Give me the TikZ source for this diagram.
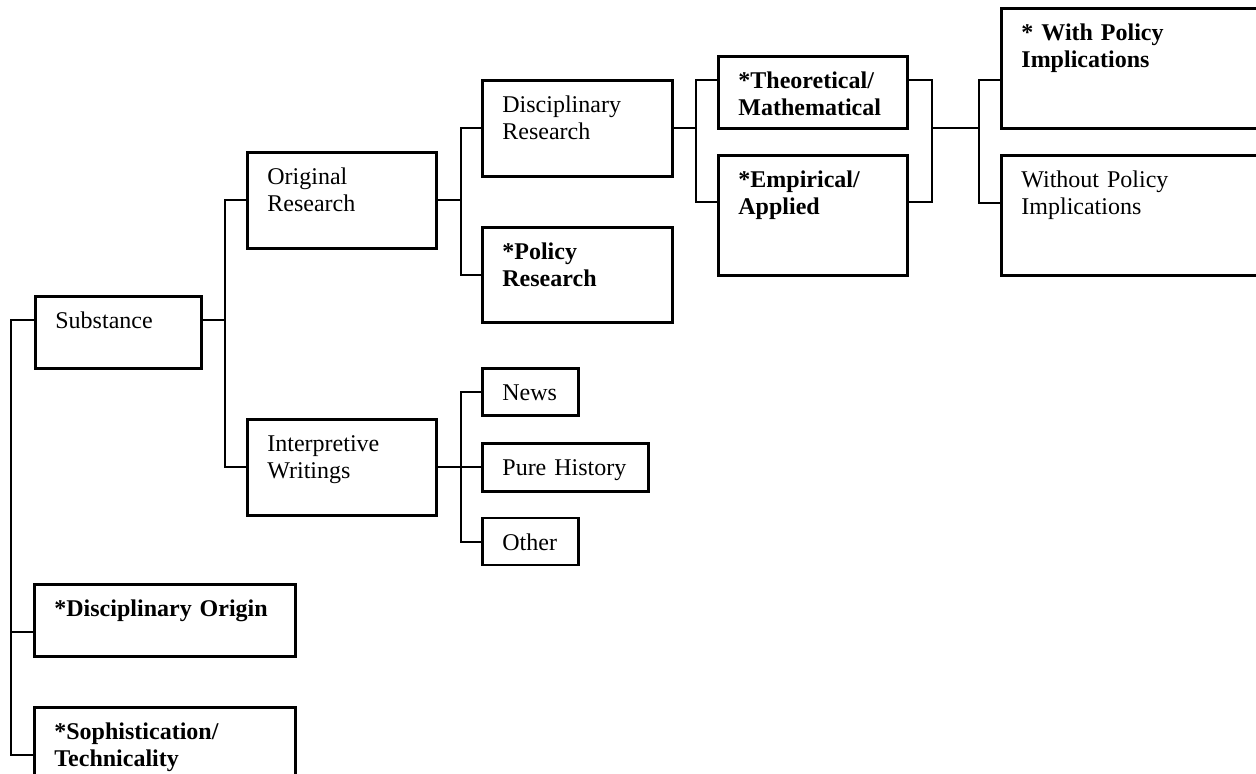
\documentclass[tikz,border=0pt]{standalone}
\usepackage{fontspec}
\setmainfont{Liberation Serif}
\usepackage{tikz}
\usetikzlibrary{positioning}
\tikzstyle{box} = [rectangle, draw, line width=1.4pt, anchor=north west,
    align=left, inner xsep=10pt, inner ysep=7pt, text height=9pt,
    font=\fontsize{12pt}{13.5pt}\selectfont]
\tikzstyle{link} = [draw, line width=1pt]

\begin{document}
\begin{tikzpicture}[x=0.5pt, y=-0.5pt]
  \useasboundingbox (0,0) rectangle (1256,774);
  \clip (0,0) rectangle (1256,774);
  % Place nodes
  \node [box, text width=63pt, text depth=13pt] (subst) at (34,295) {Substance};
  \node [box, text width=74.5pt, text depth=25pt] (orig) at (246,151) {Original\\Research};
  \node [box, text width=74.5pt, text depth=25pt, below=84pt of orig.south west, anchor=north west] (interp) {Interpretive\\Writings};
  \node [box, text width=75pt, text depth=25pt] (discres) at (481,79) {Disciplinary\\Research};
  \node [box, text width=75pt, text depth=24.5pt, below=24pt of discres.south west, anchor=north west] (polres) {\textbf{*Policy}\\\textbf{Research}};
  \node [box, text width=28pt, text depth=0.5pt] (news) at (481,367) {News};
  \node [box, text width=63pt, text depth=1pt, below=12.5pt of news.south west, anchor=north west] (purehist) {Pure History};
  \node [box, text width=28pt, text depth=0.5pt, below=12pt of purehist.south west, anchor=north west] (other) {Other};
  \node [box, text width=74.5pt, text depth=13pt] (theo) at (717,55) {\textbf{*Theoretical/}\\\textbf{Mathematical}};
  \node [box, text width=74.5pt, text depth=37pt, below=12pt of theo.south west, anchor=north west] (emp) {\textbf{*Empirical/}\\\textbf{Applied}};
  \node [box, text width=115pt, text depth=37pt] (withpol) at (1000,7) {\textbf{* With Policy}\\\textbf{Implications}};
  \node [box, text width=115pt, text depth=37pt, below=12pt of withpol.south west, anchor=north west] (withoutpol) {Without Policy\\Implications};
  \node [box, text width=110.5pt, text depth=13pt] (disorig) at (33,583) {\textbf{*Disciplinary Origin}};
  \node [box, text width=110.5pt, text depth=13pt, below=24pt of disorig.south west, anchor=north west] (soph) {\textbf{*Sophistication/}\\\textbf{Technicality}};
  % Draw edges
  \draw [link] ([yshift=6pt]subst.east) -- ++(11pt,0) coordinate (j1) |- (orig.west);
  \draw [link] (j1) |- (interp.west);
  \draw [link] (orig.east) -- ++(11.5pt,0) coordinate (j2) |- (discres.west);
  \draw [link] (j2) |- (polres.west);
  \draw [link] (discres.east) -- ++(11pt,0) coordinate (j3) |- ([yshift=6pt]theo.west);
  \draw [link] (j3) |- ([yshift=6.5pt]emp.west);
  \draw [link] ([yshift=6pt]theo.east) -- ++(11.5pt,0) coordinate (j4) |- ([yshift=6.5pt]emp.east);
  \draw [link] (j4 |- discres.east) -- ++(23.5pt,0) coordinate (j5) |- ([yshift=-6pt]withpol.west);
  \draw [link] (j5) |- ([yshift=6pt]withoutpol.west);
  \draw [link] (interp.east) -- ++(11.5pt,0) coordinate (j6) |- (news.west);
  \draw [link] (j6) |- (other.west);
  \draw [link] (j6) -- (purehist.west);
  \draw [link] ([yshift=6pt]subst.west) -- ++(-11.5pt,0) coordinate (j7) |- ([yshift=-6pt]disorig.west);
  \draw [link] (j7) |- ([yshift=-6pt]soph.west);
\end{tikzpicture}
\end{document}
